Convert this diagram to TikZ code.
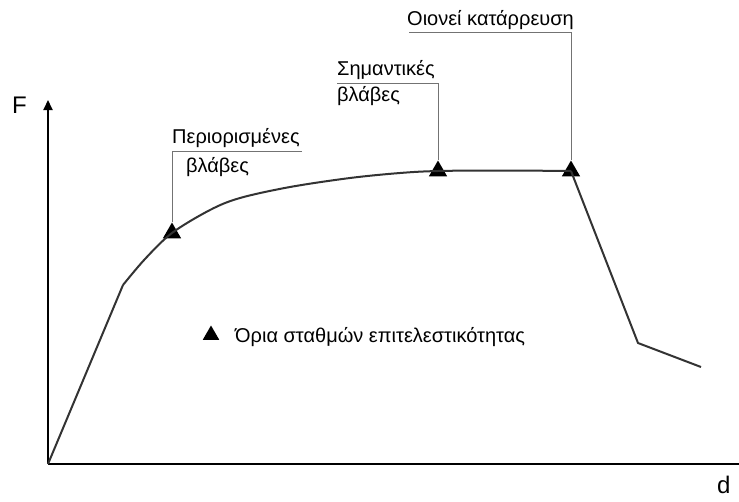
\documentclass[tikz,border=0pt]{standalone}
\usepackage{fontspec}
\setmainfont{Liberation Sans}
\usetikzlibrary{shapes.geometric,arrows.meta}
\begin{document}
\begin{tikzpicture}[x=1pt,y=-1pt,
  lbl/.style={font=\fontsize{20}{22}\selectfont, inner sep=0pt, anchor=base west, text=black},
  axislbl/.style={font=\fontsize{24}{26}\selectfont, inner sep=0pt, anchor=base west},
  tri/.style={regular polygon, regular polygon sides=3, fill=black, inner sep=0pt, minimum size=21pt},
  curve/.style={draw=black!80, line width=2pt, line join=round},
  leader/.style={draw=black!55, line width=1pt},
  axis/.style={draw=black, line width=2pt}]
\useasboundingbox (0,0) rectangle (739,501);
% axes
\coordinate (O) at (48,464);
\coordinate (Ytop) at (48,100);
\coordinate (Xend) at (739,464);
\draw[axis, -{Triangle[length=10pt,width=9pt]}] (O) -- (Ytop);
\draw[axis] (O) -- (Xend);
\node[axislbl] (F) at (12,113) {F};
\node[axislbl] (d) at (717,493) {d};
% curve
\node[tri] (t1) at (172,233) {};
\node[tri] (t2) at (438,171) {};
\node[tri] (t3) at (571,171) {};
\coordinate (k1) at (123,285);
\coordinate (k2) at (638,343);
\coordinate (e) at (701,367);
\draw[curve] (O) -- (k1);
\draw[curve] plot[smooth, tension=0.55] coordinates {(123,285) (145,259) (172,233) (210,210) (240,198) (290,187) (350,178) (400,173) (438,171) (500,170.5) (571,171)};
\draw[curve] (t3.center) -- (k2) -- (e);
% labels
\node[lbl] (l1a) at (172,143) {Περιορισμένες};
\node[lbl] (l1b) at (186,172) {βλάβες};
\coordinate (c1) at (302,151);
\draw[leader] (c1) -- (172,151) -- (t1.north);
\node[lbl] (l2a) at (337,75) {Σημαντικές};
\node[lbl] (l2b) at (337,101) {βλάβες};
\coordinate (c2) at (337,83);
\draw[leader] (c2) -- (438,83) -- (t2.north);
\node[lbl] (l3) at (407,25) {Οιονεί κατάρρευση};
\coordinate (c3) at (409,32);
\draw[leader] (c3) -- (571,32) -- (t3.north);
% legend
\node[tri, minimum size=19pt] (lt) at (211,335) {};
\node[lbl] (leg) at (235,342) {Όρια σταθμών επιτελεστικότητας};
\end{tikzpicture}
\end{document}
